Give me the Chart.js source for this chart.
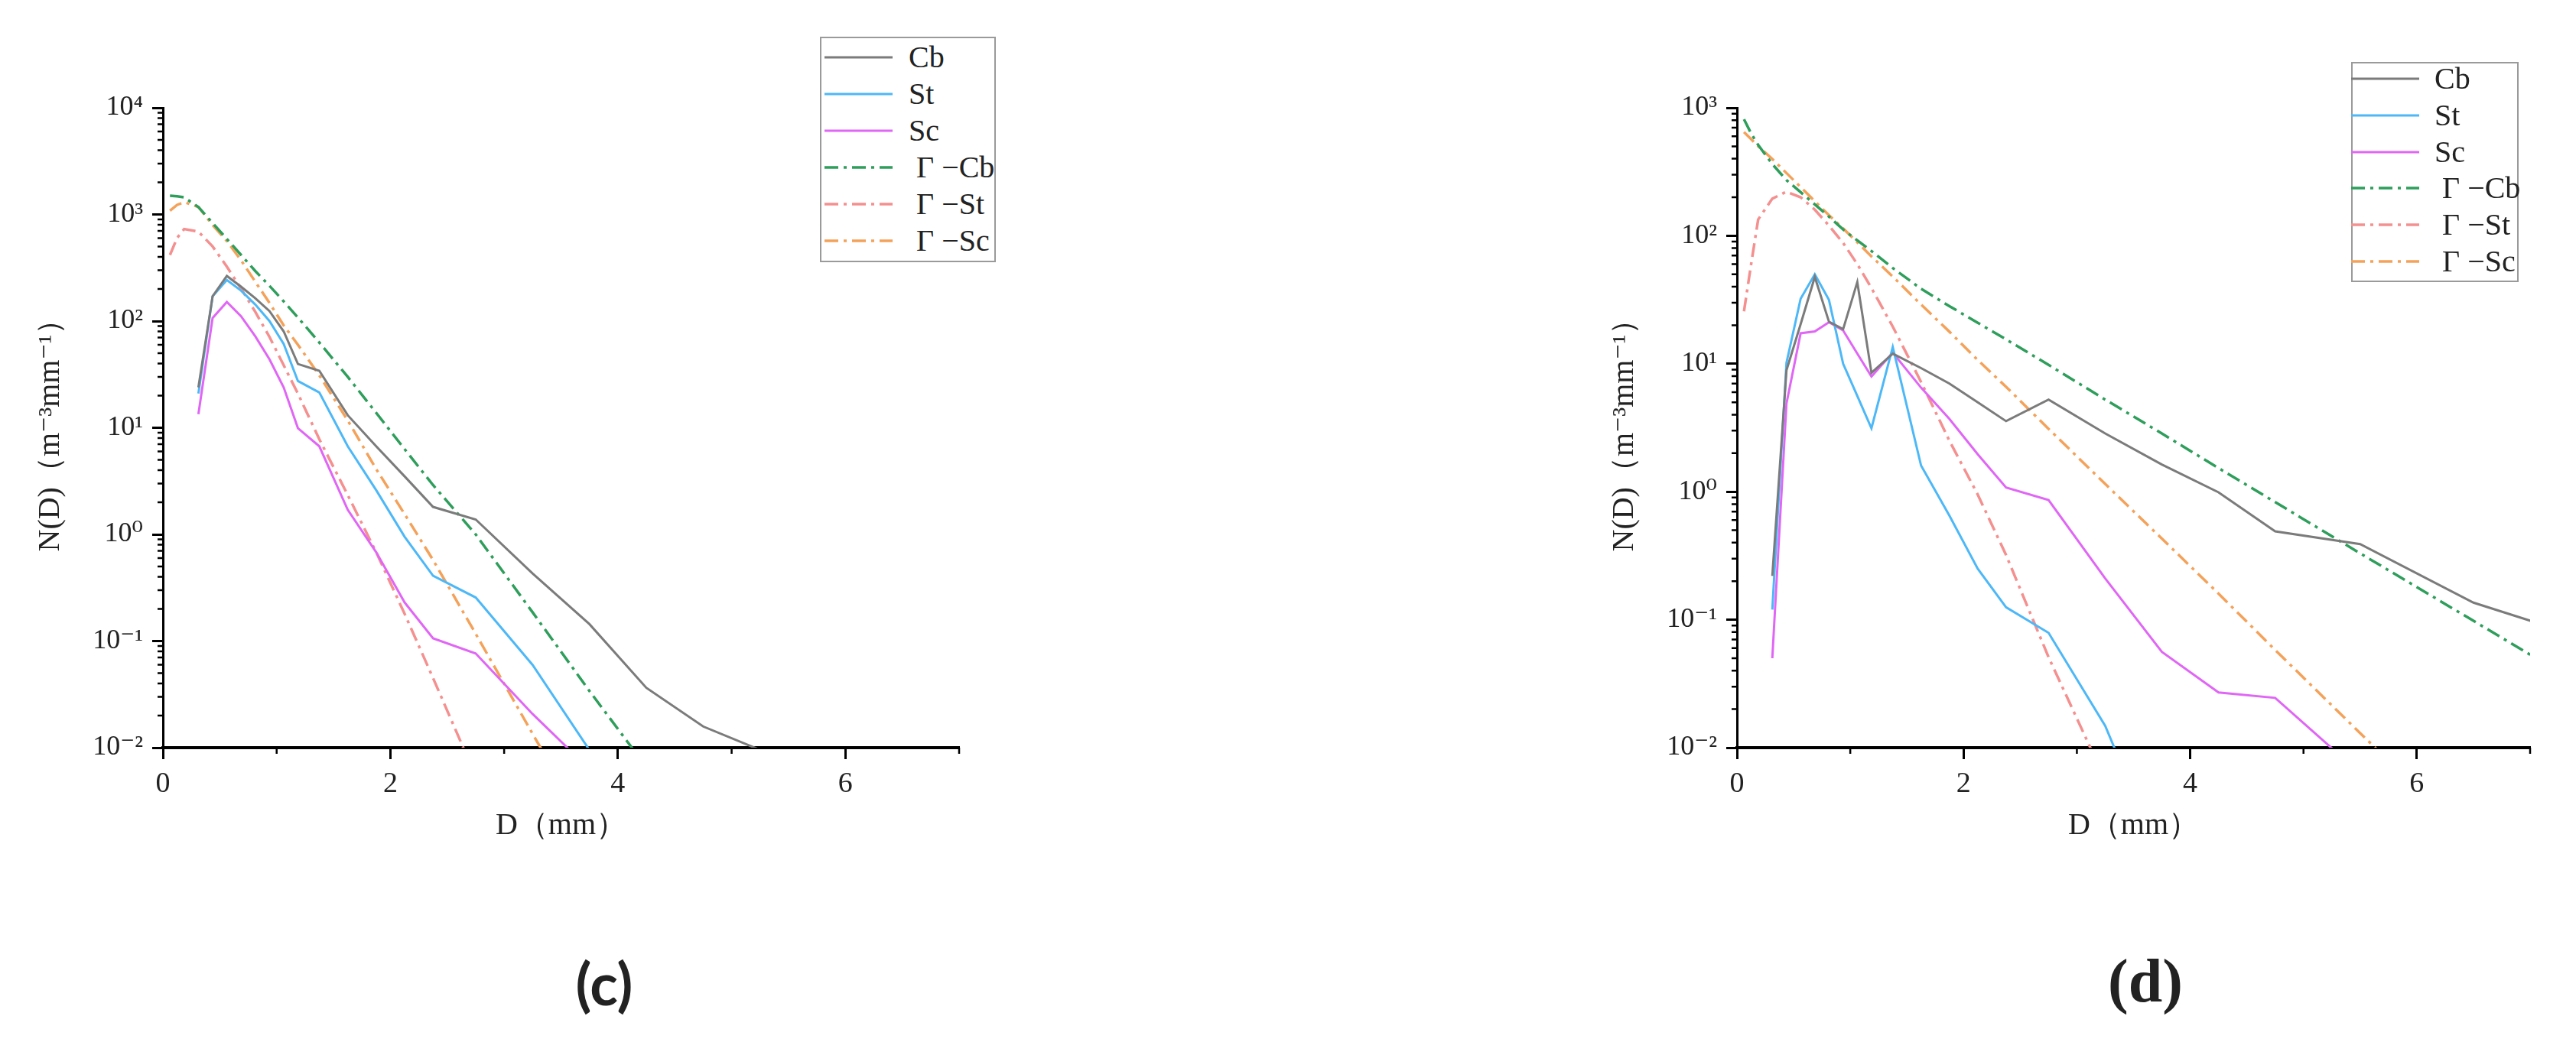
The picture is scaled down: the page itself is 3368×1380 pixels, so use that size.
<!DOCTYPE html>
<html>
<head>
<meta charset="utf-8">
<script src="https://cdn.jsdelivr.net/npm/chart.js@4.4.0/dist/chart.umd.min.js"></script>
<style>
  html, body { margin: 0; padding: 0; background: #fff; }
  body { width: 3368px; height: 1380px; position: relative; overflow: hidden;
         font-family: "Liberation Serif", "DejaVu Serif", serif; color: #222; }
  canvas { position: absolute; top: 0; }
  .legend { position: absolute; border: 2px solid #9a9a9a; box-sizing: border-box; background: #fff; }
  .legend svg { position: absolute; }
  .legend span { position: absolute; font-size: 40px; line-height: 40px; white-space: pre; }
  .tag { position: absolute; top: 1245px; font-weight: bold; transform: translateX(-50%); }
</style>
</head>
<body>
<canvas id="chartC" width="1360" height="1165" style="left:0px"></canvas>
<canvas id="chartD" width="1310" height="1165" style="left:2058px"></canvas>
<div id="legendC" class="legend" style="left:1072px; top:48px; width:230px; height:295px"></div>
<div id="legendD" class="legend" style="left:3074px; top:81px; width:219px; height:288px"></div>
<div class="tag" style="left:790px; top:1240px; font-family:Lato, 'Open Sans', sans-serif; font-size:76px">(c)</div>
<div class="tag" style="left:2805px; top:1238px; font-family:'Liberation Serif', serif; font-size:80px">(d)</div>

<script>
// drop diameter bins (mm) of the measured spectra, and the x grid of the fitted curves
const binD = [0.312, 0.437, 0.562, 0.687, 0.812, 0.937, 1.062, 1.187, 1.375, 1.625, 1.875,
  2.125, 2.375, 2.75, 3.25, 3.75, 4.25, 4.75, 5.5, 6.5, 7.5];
const fitD = [0.062, 0.125, 0.187, 0.312, 0.437, 0.562, 0.687, 0.812, 0.937, 1.062, 1.187,
  1.375, 1.625, 1.875, 2.125, 2.375, 2.75, 3.25, 3.75, 4.25, 4.75, 5.5, 6.5, 7.5];

const seriesLabels = ["Cb", "St", "Sc", "Γ −Cb", "Γ −St", "Γ −Sc"];

// panel (c)
const cbC = [23.9, 171, 265, 210, 164, 124, 80, 39.6, 34.2, 13.1, 6.7, 3.5, 1.81, 1.38, 0.43,
  0.144, 0.0364, 0.0158, 0.0074];
const stC = [20.9, 171, 243, 193, 143, 100, 61, 27.4, 21.4, 6.7, 2.6, 0.95, 0.41, 0.256, 0.0597,
  0.0095];
const scC = [13.4, 107, 151, 111, 72, 43.8, 23.9, 9.9, 6.7, 1.7, 0.68, 0.23, 0.106, 0.0765, 0.0207,
  0.0063];
const gammaCbC = [1496, 1479, 1445, 1175, 832, 589, 417, 295, 214, 153, 108, 63, 30, 13.8, 6.3,
  2.9, 1.0, 0.186, 0.034, 0.0066];
const gammaStC = [417, 603, 730, 690, 501, 324, 202, 122, 71, 38.5, 20.9, 7.8, 2.34, 0.68, 0.18,
  0.045, 0.0054];
const gammaScC = [1084, 1230, 1303, 1175, 794, 562, 372, 234, 148, 91, 60, 31, 11.7, 4.1, 1.55,
  0.575, 0.117, 0.0135, 0.0016];

// panel (d)
const cbD = [0.22, 8.9, 20.4, 47.7, 21.3, 18.6, 43.5, 8.5, 12.0, 9.25, 7.0, 5.0, 3.56, 5.25, 2.85,
  1.63, 0.99, 0.49, 0.39, 0.136, 0.071];
const stD = [0.12, 10.2, 32.2, 50, 31.5, 10.0, 5.6, 3.13, 13.5, 1.6, 0.65, 0.25, 0.125, 0.079,
  0.0148, 0.0013];
const scD = [0.05, 4.9, 17.3, 17.9, 21.1, 18.2, 12.0, 7.95, 12.2, 6.5, 3.7, 1.96, 1.08, 0.86, 0.21,
  0.056, 0.027, 0.0245, 0.0063];
const gammaCbD = [813, 630, 513, 363, 272, 219, 176, 141, 112, 92, 76, 56, 38.5, 28.2, 20.9, 15.5,
  9.8, 5.25, 2.85, 1.53, 0.83, 0.33, 0.098, 0.029];
const gammaStD = [25.7, 60, 134, 195, 221, 200, 160, 120, 88, 60, 39, 19.5, 7.2, 2.5, 0.95, 0.32,
  0.051, 0.0056];
const gammaScD = [646, 569, 501, 398, 309, 240, 186, 145, 114, 89, 69, 48, 29, 17.8, 10.7, 6.6,
  3.1, 1.15, 0.43, 0.16, 0.058, 0.013, 0.0018];

// axis ticks
const xMajorTicks = [0, 2, 4, 6];
const xMinorTicks = [1, 3, 5, 7];
const yExpC = [-2, -1, 0, 1, 2, 3, 4];
const yExpD = [-2, -1, 0, 1, 2, 3];

const lineColors = ["#7b7b7b", "#4db8f7", "#e066f5", "#2e9e5b", "#f4908f", "#f4a25a"];
const dashDot = [18, 7, 4, 7];

Chart.defaults.font.family = '"Liberation Serif", "DejaVu Serif", serif';
Chart.defaults.color = "#222";

const supDigits = { "-": "⁻", "0": "⁰", "1": "¹", "2": "²", "3": "³", "4": "⁴",
  "5": "⁵", "6": "⁶", "7": "⁷", "8": "⁸", "9": "⁹" };
function powerLabel(v) {
  const e = String(Math.round(Math.log10(v)));
  return "10" + e.split("").map((c) => supDigits[c]).join("");
}

function toPoints(xs, ys) {
  return ys.map((y, i) => ({ x: xs[i], y: y }));
}

// short minor ticks on both axes, placed with the chart's own scales
const minorTicks = {
  id: "minorTicks",
  afterDraw(chart) {
    const { ctx, chartArea } = chart;
    const x = chart.scales.x;
    const y = chart.scales.y;
    ctx.save();
    ctx.strokeStyle = "#000";
    ctx.lineWidth = 2.5;
    ctx.beginPath();
    xMinorTicks.forEach((v) => {
      const px = x.getPixelForValue(v);
      ctx.moveTo(px, chartArea.bottom);
      ctx.lineTo(px, chartArea.bottom + 8);
    });
    const lo = Math.round(Math.log10(y.min));
    const hi = Math.round(Math.log10(y.max));
    for (let e = lo; e < hi; e++) {
      for (let k = 2; k <= 9; k++) {
        const py = y.getPixelForValue(k * Math.pow(10, e));
        ctx.moveTo(chartArea.left, py);
        ctx.lineTo(chartArea.left - 7, py);
      }
    }
    ctx.stroke();
    ctx.restore();
  },
};

function createPanel(canvasId, seriesData, yExp, rightPad) {
  const xsets = [binD, binD, binD, fitD, fitD, fitD];
  const datasets = seriesData.map((vals, i) => ({
    label: seriesLabels[i],
    data: toPoints(xsets[i], vals),
    borderColor: lineColors[i],
    borderWidth: i < 3 ? 3 : 3.5,
    borderDash: i < 3 ? [] : dashDot,
    pointRadius: 0,
    tension: 0,
    fill: false,
  }));

  return new Chart(document.getElementById(canvasId), {
    type: "line",
    data: { datasets: datasets },
    plugins: [minorTicks],
    options: {
      responsive: false,
      animation: false,
      layout: { padding: { left: 0, top: 141, right: rightPad, bottom: 0 } },
      plugins: { legend: { display: false }, tooltip: { enabled: false } },
      scales: {
        x: {
          type: "linear",
          min: 0,
          max: 7,
          afterBuildTicks: (scale) => {
            scale.ticks = xMajorTicks.map((v) => ({ value: v }));
          },
          afterFit: (scale) => {
            scale.height = 187;
          },
          border: { color: "#000", width: 4 },
          grid: { drawOnChartArea: false, tickLength: 15, tickWidth: 3, tickColor: "#000" },
          ticks: { font: { size: 38 }, padding: 10, maxRotation: 0, autoSkip: false },
          title: { display: true, text: "D（mm）", font: { size: 40 }, padding: { top: 0, bottom: 61 } },
        },
        y: {
          type: "logarithmic",
          min: Math.pow(10, yExp[0]),
          max: Math.pow(10, yExp[yExp.length - 1]),
          afterBuildTicks: (scale) => {
            scale.ticks = yExp.map((e) => ({ value: Math.pow(10, e) }));
          },
          afterFit: (scale) => {
            scale.width = 213;
          },
          border: { color: "#000", width: 3 },
          grid: { drawOnChartArea: false, tickLength: 14, tickWidth: 3, tickColor: "#000" },
          ticks: { font: { size: 36 }, padding: 12, callback: (v) => powerLabel(v) },
          title: { display: true, text: "N(D)（m⁻³mm⁻¹）", font: { size: 40 }, padding: { top: 42, bottom: 0 } },
        },
      },
    },
  });
}

// html legend built from the chart's own datasets
function buildLegend(chart, elId, lineLeft, textLeft, firstRow, rowStep) {
  const box = document.getElementById(elId);
  chart.data.datasets.forEach((ds, i) => {
    const cy = firstRow + i * rowStep;
    const svgNS = "http://www.w3.org/2000/svg";
    const svg = document.createElementNS(svgNS, "svg");
    svg.setAttribute("width", "89");
    svg.setAttribute("height", "10");
    svg.style.left = lineLeft + "px";
    svg.style.top = cy - 5 + "px";
    const ln = document.createElementNS(svgNS, "line");
    ln.setAttribute("x1", "0");
    ln.setAttribute("x2", "89");
    ln.setAttribute("y1", "5");
    ln.setAttribute("y2", "5");
    ln.setAttribute("stroke", ds.borderColor);
    ln.setAttribute("stroke-width", ds.borderWidth);
    if (ds.borderDash.length) ln.setAttribute("stroke-dasharray", ds.borderDash.join(" "));
    svg.appendChild(ln);
    box.appendChild(svg);

    const label = document.createElement("span");
    label.textContent = i < 3 ? ds.label : " " + ds.label;
    label.style.left = textLeft + "px";
    label.style.top = cy - 20 + "px";
    box.appendChild(label);
  });
}

const chartC = createPanel("chartC", [cbC, stC, scC, gammaCbC, gammaStC, gammaScC], yExpC, 106);
const chartD = createPanel("chartD", [cbD, stD, scD, gammaCbD, gammaStD, gammaScD], yExpD, 60);

buildLegend(chartC, "legendC", 4, 114, 25, 48);
buildLegend(chartD, "legendD", -2, 107, 20, 47.8);
</script>
</body>
</html>
